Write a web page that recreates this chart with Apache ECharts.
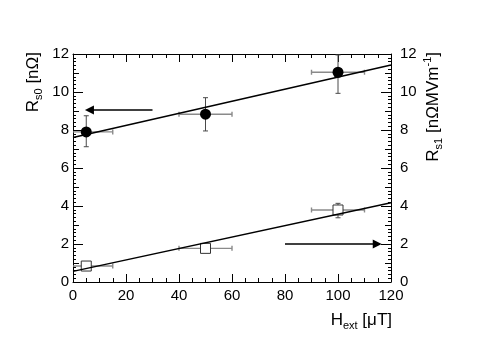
<!DOCTYPE html>
<html>
<head>
<meta charset="utf-8">
<script src="https://cdn.jsdelivr.net/npm/echarts@6/dist/echarts.min.js"></script>
<style>
  html, body { margin: 0; padding: 0; background: #fff; }
  #chart { width: 491px; height: 353px; }
</style>
</head>
<body>
<div id="chart"></div>
<script>
// field values, uT
const hext = [5, 50, 100]
const hextErr = [10, 10, 10]
// Rs0 (filled circles), nOhm
const rs0 = [7.9, 8.83, 11.04]
const rs0Lo = [7.12, 7.95, 9.93]
const rs0Hi = [8.75, 9.7, 11.95]
// Rs1 (open squares), nOhm/(MV/m)
const rs1 = [0.84, 1.77, 3.79]
const rs1Lo = [0.76, 1.7, 3.38]
const rs1Hi = [0.92, 1.84, 4.14]
// linear fits
const fit0 = [[0, 7.6], [120, 11.42]]
const fit1 = [[0, 0.56], [120, 4.17]]
// arrows pointing to the axis of each set
const arrowLeft = [[30, 9.05], [6.2, 9.05]]
const arrowRight = [[80, 2.0], [114.8, 2.0]]

const font = 'Liberation Sans'

function errData(ys, lo, hi) {
  return hext.map((x, i) => [x, ys[i], x - hextErr[i], x + hextErr[i], lo[i], hi[i]])
}

function renderErr(params, api) {
  const cs = params.coordSys
  const c = api.coord([api.value(0), api.value(1)])
  const xl = api.coord([api.value(2), api.value(1)])
  const xh = api.coord([api.value(3), api.value(1)])
  const yl = api.coord([api.value(0), api.value(4)])
  const yh = api.coord([api.value(0), api.value(5)])
  const left = Math.max(xl[0], cs.x)
  const right = Math.min(xh[0], cs.x + cs.width)
  const top = Math.max(yh[1], cs.y)
  const cap = 2.5
  const hStyle = { stroke: '#8a8a8a', lineWidth: 1.4 }
  const vStyle = { stroke: '#4a4a4a', lineWidth: 1 }
  const kids = [
    { type: 'line', shape: { x1: left, y1: c[1], x2: right, y2: c[1] }, style: hStyle },
    { type: 'line', shape: { x1: c[0], y1: top, x2: c[0], y2: yl[1] }, style: vStyle },
    { type: 'line', shape: { x1: c[0] - cap, y1: yl[1], x2: c[0] + cap, y2: yl[1] }, style: vStyle },
    { type: 'line', shape: { x1: right, y1: c[1] - cap, x2: right, y2: c[1] + cap }, style: hStyle }
  ]
  if (xl[0] >= cs.x) {
    kids.push({ type: 'line', shape: { x1: left, y1: c[1] - cap, x2: left, y2: c[1] + cap }, style: hStyle })
  }
  if (yh[1] >= cs.y) {
    kids.push({ type: 'line', shape: { x1: c[0] - cap, y1: top, x2: c[0] + cap, y2: top }, style: vStyle })
  }
  return { type: 'group', children: kids }
}

const richTitle = {
  m: { fontFamily: font, fontSize: 17, color: '#000', lineHeight: 22, verticalAlign: 'middle' },
  s: { fontFamily: font, fontSize: 11, color: '#000', lineHeight: 13, verticalAlign: 'bottom' },
  u: { fontFamily: font, fontSize: 11, color: '#000', lineHeight: 13, verticalAlign: 'top' }
}

const tickColor = '#000'
function xAx(pos, showLabel) {
  return {
    type: 'value', position: pos, min: 0, max: 120, interval: 20,
    axisLine: { onZero: false, lineStyle: { color: '#000', width: 1 } },
    axisTick: { inside: true, length: 8, lineStyle: { color: tickColor } },
    minorTick: { show: true, splitNumber: 4, length: 4, lineStyle: { color: tickColor } },
    axisLabel: { show: showLabel, margin: 6, fontFamily: font, fontSize: 15, color: '#000' },
    splitLine: { show: false }
  }
}
function yAx(pos, main) {
  return {
    type: 'value', position: pos, min: 0, max: 12, interval: main ? 2 : 1,
    axisLine: { show: main, onZero: false, lineStyle: { color: '#000', width: 1 } },
    axisTick: { inside: true, length: main ? 10 : 6, lineStyle: { color: tickColor } },
    minorTick: { show: main, splitNumber: 10, length: 3, lineStyle: { color: tickColor } },
    axisLabel: { show: main, margin: pos === 'left' ? 4 : 9, fontFamily: font, fontSize: 15, color: '#000' },
    splitLine: { show: false }
  }
}

const chart = echarts.init(document.getElementById('chart'))
chart.setOption({
  animation: false,
  backgroundColor: '#fff',
  grid: { left: 73, right: 100, top: 54, bottom: 71, containLabel: false, outerBoundsMode: 'none' },
  xAxis: [xAx('bottom', true), xAx('top', false)],
  yAxis: [yAx('left', true), yAx('left', false), yAx('right', true), yAx('right', false)],
  graphic: [
    { type: 'text', x: 33, y: 52, rotation: Math.PI / 2,
      style: { text: '{m|R}{s|s0}{m| [nΩ]}', rich: richTitle, align: 'right', verticalAlign: 'middle' } },
    { type: 'text', x: 433, y: 52, rotation: Math.PI / 2,
      style: { text: '{m|R}{s|s1}{m| [nΩMVm}{u|-1}{m|]}', rich: richTitle, align: 'right', verticalAlign: 'middle' } },
    { type: 'text', x: 392, y: 320,
      style: { text: '{m|H}{s|ext}{m| [μT]}', rich: richTitle, align: 'right', verticalAlign: 'middle' } }
  ],
  series: [
    { type: 'custom', renderItem: renderErr, data: errData(rs0, rs0Lo, rs0Hi), z: 2 },
    { type: 'custom', renderItem: renderErr, data: errData(rs1, rs1Lo, rs1Hi), z: 2 },
    { type: 'scatter', data: hext.map((x, i) => [x, rs1[i]]), symbol: 'rect', symbolSize: 10,
      itemStyle: { color: '#fff', borderColor: '#333', borderWidth: 1, opacity: 1 }, z: 3 },
    { type: 'line', data: fit0, symbol: 'none', lineStyle: { color: '#000', width: 1.5 }, z: 4 },
    { type: 'line', data: fit1, symbol: 'none', lineStyle: { color: '#000', width: 1.5 }, z: 4 },
    { type: 'scatter', data: hext.map((x, i) => [x, rs0[i]]), symbol: 'circle', symbolSize: 11,
      itemStyle: { color: '#000', opacity: 1 }, z: 5 },
    { type: 'lines', coordinateSystem: 'cartesian2d', symbol: ['none', 'triangle'], symbolSize: 9,
      lineStyle: { color: '#000', width: 1.5, opacity: 1 },
      data: [{ coords: arrowLeft }, { coords: arrowRight }], z: 4 }
  ]
})
</script>
</body>
</html>
